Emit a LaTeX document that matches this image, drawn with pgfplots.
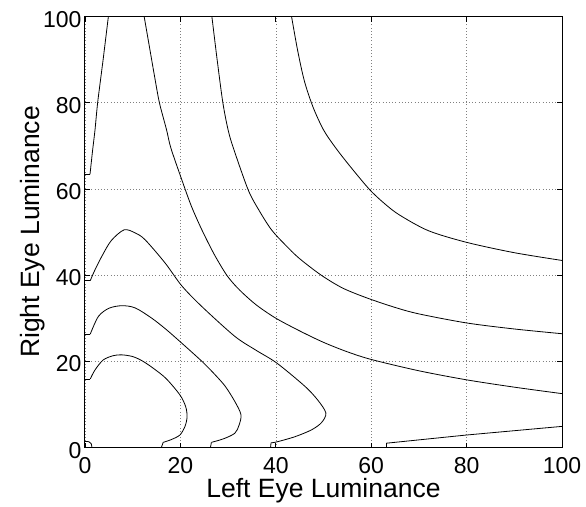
\documentclass[border=0pt]{standalone}
\usepackage{fontspec}
\setmainfont{Liberation Sans}
\usepackage{pgfplots}
\pgfplotsset{compat=1.18}

\begin{document}
\begin{tikzpicture}
\begin{axis}[
    scale only axis,
    width=477pt, height=431pt,
    xmin=0, xmax=100, ymin=0, ymax=100,
    xtick={0,20,...,100}, ytick={0,20,...,100},
    tick align=inside,
    major tick length=5pt,
    grid=major,
    major grid style={gray, line width=0.6pt, dash pattern=on 0.8pt off 2.4pt},
    axis line style={line width=1pt},
    every tick/.style={black, line width=0.8pt},
    ticklabel style={font=\fontsize{23}{25}\selectfont},
    /pgf/number format/assume math mode=true,
    xticklabel style={anchor=base, yshift=-26pt, inner sep=0pt},
    yticklabel style={anchor=base east, yshift=-10.6pt},
    xlabel={Left Eye Luminance},
    ylabel={Right Eye Luminance},
    label style={font=\fontsize{26.5}{30}\selectfont},
    xlabel style={at={([yshift=-50pt]rel axis cs:0.5,0)}, anchor=base, inner sep=0pt},
    ylabel style={at={([xshift=-45.7pt]rel axis cs:0,0.5)}, anchor=base},
    cycle list={{black, solid, line width=0.8pt, mark=none}},
    cl/.style={black, solid, line width=0.8pt, mark=none},
]
\coordinate (sw) at (rel axis cs:0,0);
\coordinate (ne) at (rel axis cs:1,1);

% small loop at the origin
\addplot[cl, smooth] coordinates {(0,1.4) (0.8,1.35) (1.3,0.9) (1.45,0)};

% innermost level
\addplot[cl] coordinates {(0,15.9) (1.1,15.9)};
\addplot[cl, smooth, tension=0.5] coordinates {
    (1.1,15.9) (2.1,18) (3.8,20.3) (5.9,21.3) (7.7,21.5) (10,21.1) (12,20.1)
    (14.3,18.4) (17,16) (19.9,12.2) (21.1,9.5) (21.4,7.2) (21,5) (19.9,2.9)
    (18,1.8) (16.4,1.2)};
\addplot[cl] coordinates {(16.4,1.2) (16,0)};

% second level
\addplot[cl] coordinates {(0,26.3) (1.1,26.3)};
\addplot[cl, smooth, tension=0.5] coordinates {
    (1.1,26.3) (2.8,30.4) (5,32.3) (7.7,32.9) (10.5,32.4) (14,30) (17,27.4)
    (20.3,24.2) (24.5,20) (27,17.2) (29.4,14.2) (31.5,10.5) (32.7,7.6)
    (32.3,5.2) (31.4,3.3) (29,2) (26.5,1.2)};
\addplot[cl] coordinates {(26.5,1.2) (26.3,0)};

% third level
\addplot[cl] coordinates {(0,38.7) (1.1,38.7)};
\addplot[cl, smooth, tension=0.5] coordinates {
    (1.1,38.7) (2,41) (3.5,44.3) (5.5,48) (8.2,50.5) (10.5,49.8) (12.6,48.2)
    (16.8,42.8) (20.3,37.5) (24.5,32.7) (31.4,25.8) (35.8,22.6) (40.2,19.6)
    (46.1,14.2) (48.8,11) (50.5,8) (49.6,5.8) (47.5,4.1) (44,2.5) (40.2,1.3)
    (39,1.1)};
\addplot[cl] coordinates {(39,1.1) (38.9,0)};

% level starting near the top left corner
\addplot[cl] coordinates {(0,63.4) (1.05,63.4)};
\addplot[cl, smooth, tension=0.4] coordinates {
    (1.05,63.4) (1.6,69) (2.1,73.7) (2.65,80) (3.8,90) (4.9,100)};

% outer levels
\addplot[cl, smooth, tension=0.5] coordinates {
    (12.4,100) (13.5,93) (14.6,86) (15.6,80) (17.1,73.7) (18,69.5)
    (20.3,62.1) (22.3,56) (24.5,50.5) (27,45) (29.4,40.5) (31,38.2)
    (33,35.9) (36,33) (40,30) (45.1,27) (50,24.4) (55,22.2)
    (60.1,20.4) (70,17.8) (80,15.7) (90,14) (100,12.5)};

\addplot[cl, smooth, tension=0.5] coordinates {
    (26.6,100) (27.7,90) (28.9,80) (30,73.7) (31.1,69.5) (34.2,59.8)
    (36.5,55) (39.1,50.5) (42,47) (44.9,43.9) (49.5,40) (54,37)
    (59.1,34.7) (65,32.5) (70,31) (80,28.9) (90,27.5) (100,26.4)};

\addplot[cl, smooth, tension=0.5] coordinates {
    (43.3,100) (44.6,92) (46,85) (47.8,79) (50,73.7) (52.5,69.6) (55.6,65.2)
    (59.7,59.8) (63,56.4) (66,53.9) (72,50.3) (80,47.6) (90,45.2) (100,43.4)};

% bottom right level
\addplot[cl] coordinates {(63.2,0) (63.2,1) (80,2.9) (100,4.9)};
\end{axis}
\pgfresetboundingbox
\path ([shift={(-85pt,-59.3pt)}]sw) rectangle ([shift={(24pt,16.5pt)}]ne);
\end{tikzpicture}
\end{document}
